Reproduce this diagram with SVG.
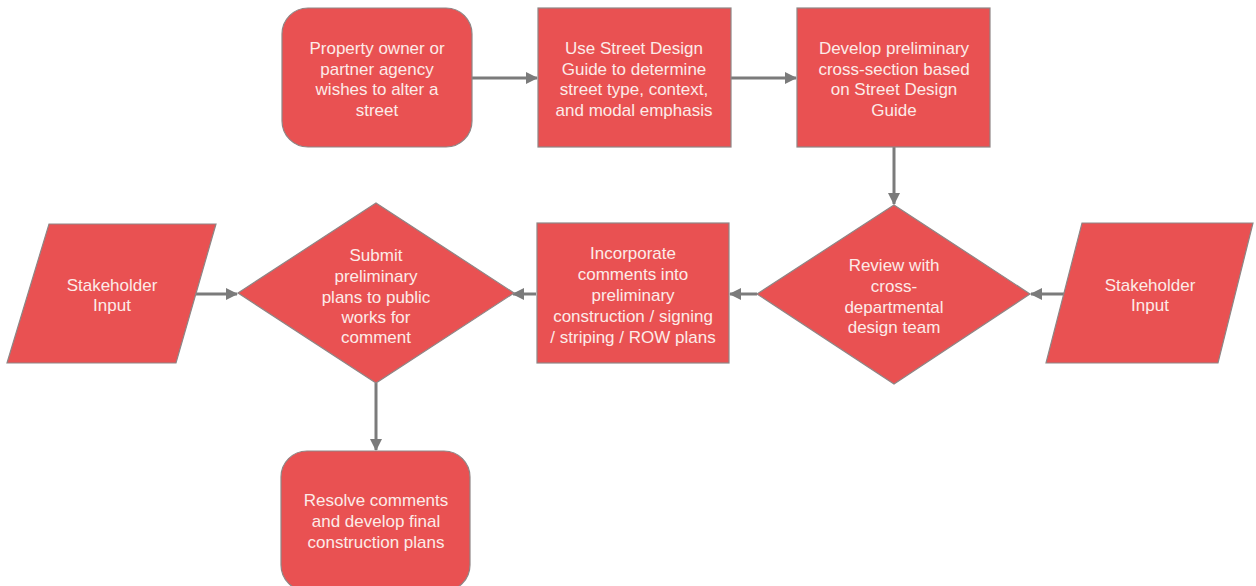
<svg xmlns="http://www.w3.org/2000/svg" width="1256" height="586" viewBox="0 0 1256 586">
<defs>
<style>
.n{fill:#E95152;stroke:#8f8585;stroke-width:1.2}
.t{font-family:"Liberation Sans",Arial,sans-serif;font-size:17px;fill:#FCEBE8;text-anchor:middle}
.c{stroke:#7b7b7b;stroke-width:3;fill:none;marker-end:url(#ah)}
</style>
<marker id="ah" markerUnits="userSpaceOnUse" markerWidth="12" markerHeight="12" refX="11" refY="6" orient="auto">
<path d="M0,0 L12,6 L0,12 Z" fill="#7b7b7b"/>
</marker>
</defs>
<rect width="1256" height="586" fill="#ffffff"/>
<g id="connectors">
<line class="c" x1="472" y1="78" x2="537" y2="78"/>
<line class="c" x1="731" y1="78" x2="796" y2="78"/>
<line class="c" x1="894" y1="147" x2="894" y2="204"/>
<line class="c" x1="1064" y1="294" x2="1031" y2="294"/>
<line class="c" x1="757" y1="294" x2="730" y2="294"/>
<line class="c" x1="536" y1="294" x2="513" y2="294"/>
<line class="c" x1="196" y1="294" x2="237" y2="294"/>
<line class="c" x1="376" y1="383" x2="376" y2="450"/>
</g>
<g id="n1">
<rect class="n" x="282" y="8" width="190" height="139" rx="26"/>
<text class="t"><tspan x="377" y="54">Property owner or</tspan><tspan x="377" y="75">partner agency</tspan><tspan x="377" y="95">wishes to alter a</tspan><tspan x="377" y="116">street</tspan></text>
</g>
<g id="n2">
<rect class="n" x="538" y="8" width="193" height="139"/>
<text class="t"><tspan x="634" y="54">Use Street Design</tspan><tspan x="634" y="75">Guide to determine</tspan><tspan x="634" y="95">street type, context,</tspan><tspan x="634" y="116">and modal emphasis</tspan></text>
</g>
<g id="n3">
<rect class="n" x="797" y="8" width="193" height="139"/>
<text class="t"><tspan x="894" y="54">Develop preliminary</tspan><tspan x="894" y="75">cross-section based</tspan><tspan x="894" y="95">on Street Design</tspan><tspan x="894" y="116">Guide</tspan></text>
</g>
<g id="n4">
<polygon class="n" points="894,205 1030,294 894,384 757,294"/>
<text class="t"><tspan x="894" y="271">Review with</tspan><tspan x="894" y="292">cross-</tspan><tspan x="894" y="313">departmental</tspan><tspan x="894" y="333">design team</tspan></text>
</g>
<g id="n5">
<polygon class="n" points="1082,223 1253,223 1218,363 1046,363"/>
<text class="t"><tspan x="1150" y="291">Stakeholder</tspan><tspan x="1150" y="311">Input</tspan></text>
</g>
<g id="n6">
<rect class="n" x="537" y="223" width="192" height="140"/>
<text class="t"><tspan x="633" y="259">Incorporate</tspan><tspan x="633" y="280">comments into</tspan><tspan x="633" y="301">preliminary</tspan><tspan x="633" y="322">construction / signing</tspan><tspan x="633" y="343">/ striping / ROW plans</tspan></text>
</g>
<g id="n7">
<polygon class="n" points="376,203 514,293 376,383 238,293"/>
<text class="t"><tspan x="376" y="261">Submit</tspan><tspan x="376" y="282">preliminary</tspan><tspan x="376" y="303">plans to public</tspan><tspan x="376" y="323">works for</tspan><tspan x="376" y="343">comment</tspan></text>
</g>
<g id="n8">
<polygon class="n" points="49,224 216,224 176,363 7,363"/>
<text class="t"><tspan x="112" y="291">Stakeholder</tspan><tspan x="112" y="311">Input</tspan></text>
</g>
<g id="n9">
<rect class="n" x="281" y="451" width="189" height="140" rx="26"/>
<text class="t"><tspan x="376" y="506">Resolve comments</tspan><tspan x="376" y="527">and develop final</tspan><tspan x="376" y="548">construction plans</tspan></text>
</g>
</svg>
